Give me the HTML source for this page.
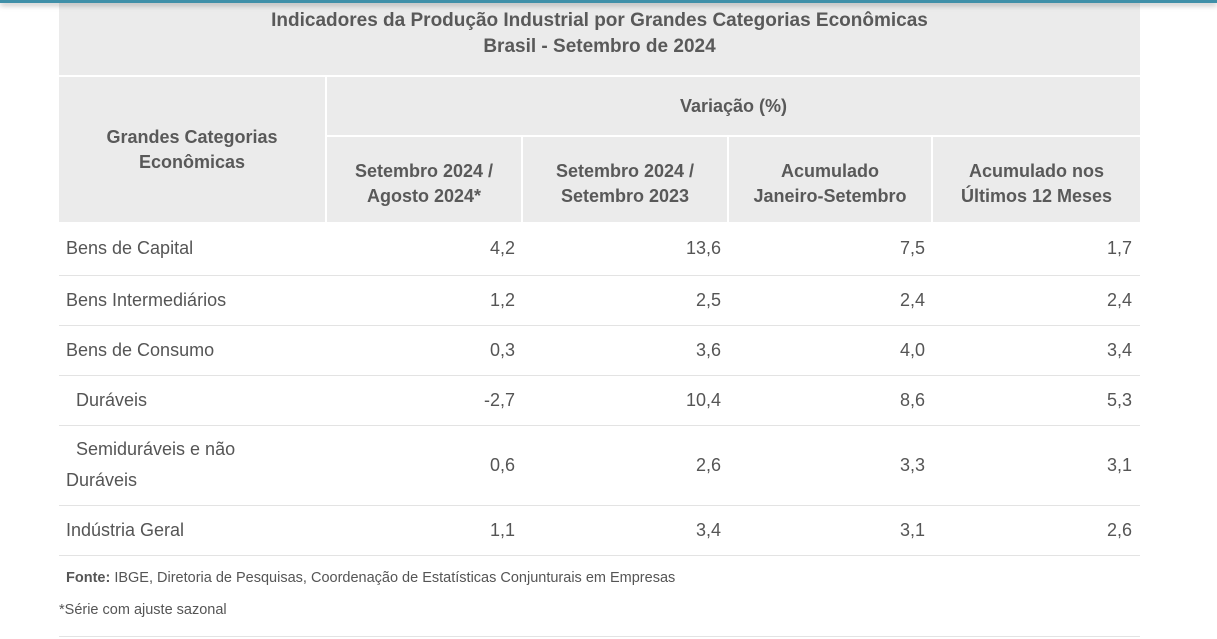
<!DOCTYPE html>
<html><head><meta charset="utf-8"><style>
body{margin:0;width:1217px;height:639px;background:#fff;font-family:"Liberation Sans",sans-serif;color:#555;position:relative;overflow:hidden}
.topbar{position:absolute;left:0;top:0;width:1217px;height:3px;background:#3f8fa8;box-shadow:0 2px 6px rgba(0,0,0,.35);z-index:5}
.c{position:absolute;box-sizing:border-box;display:flex;align-items:center;background:#ebebeb}
.h{font-weight:bold;font-size:18px;justify-content:center;text-align:center;line-height:25px;color:#595959}
.f{position:absolute;left:66px;font-size:14.5px;color:#555}
td{border-bottom:1px solid #e3e3e3;text-align:right;padding:0 8px 0 0;vertical-align:middle}
td.x{text-align:left;padding-left:7px}
</style></head><body>
<div class="topbar"></div>
<div class="c h" style="left:59px;top:0;width:1081px;height:75px;flex-direction:column;justify-content:flex-start;padding-top:8px;font-size:19px;line-height:26px">Indicadores da Produção Industrial por Grandes Categorias Econômicas<br>Brasil - Setembro de 2024</div>
<div class="c h" style="left:59px;top:77px;width:266px;height:145px">Grandes Categorias<br>Econômicas</div>
<div class="c h" style="left:327px;top:77px;width:813px;height:58px">Variação (%)</div>
<div class="c h" style="left:327px;top:137px;width:194px;height:85px;padding-top:8px">Setembro 2024 /<br>Agosto 2024*</div>
<div class="c h" style="left:523px;top:137px;width:204px;height:85px;padding-top:8px">Setembro 2024 /<br>Setembro 2023</div>
<div class="c h" style="left:729px;top:137px;width:202px;height:85px;padding-top:8px">Acumulado<br>Janeiro-Setembro</div>
<div class="c h" style="left:933px;top:137px;width:207px;height:85px;padding-top:8px">Acumulado nos<br>Últimos 12 Meses</div>
<div style="position:absolute;left:59px;top:222px;width:1081px">
<table style="border-collapse:collapse;width:1081px;font-size:18px;color:#555">
<colgroup><col style="width:268px"><col style="width:196px"><col style="width:206px"><col style="width:204px"><col style="width:207px"></colgroup>
<tr style="height:53px"><td class="x">Bens de Capital</td><td>4,2</td><td>13,6</td><td>7,5</td><td>1,7</td></tr>
<tr style="height:50px"><td class="x">Bens Intermediários</td><td>1,2</td><td>2,5</td><td>2,4</td><td>2,4</td></tr>
<tr style="height:50px"><td class="x">Bens de Consumo</td><td>0,3</td><td>3,6</td><td>4,0</td><td>3,4</td></tr>
<tr style="height:50px"><td class="x">&nbsp; Duráveis</td><td>-2,7</td><td>10,4</td><td>8,6</td><td>5,3</td></tr>
<tr style="height:80px"><td class="x" style="line-height:31px">&nbsp; Semiduráveis e não<br>Duráveis</td><td>0,6</td><td>2,6</td><td>3,3</td><td>3,1</td></tr>
<tr style="height:50px"><td class="x">Indústria Geral</td><td>1,1</td><td>3,4</td><td>3,1</td><td>2,6</td></tr>
</table></div>
<div class="f" style="top:570px"><b>Fonte:</b> IBGE, Diretoria de Pesquisas, Coordenação de Estatísticas Conjunturais em Empresas</div>
<div class="f" style="top:602px;left:59px">*Série com ajuste sazonal</div>
<div style="position:absolute;left:59px;top:636px;width:1081px;height:1px;background:#e3e3e3"></div>
</body></html>
